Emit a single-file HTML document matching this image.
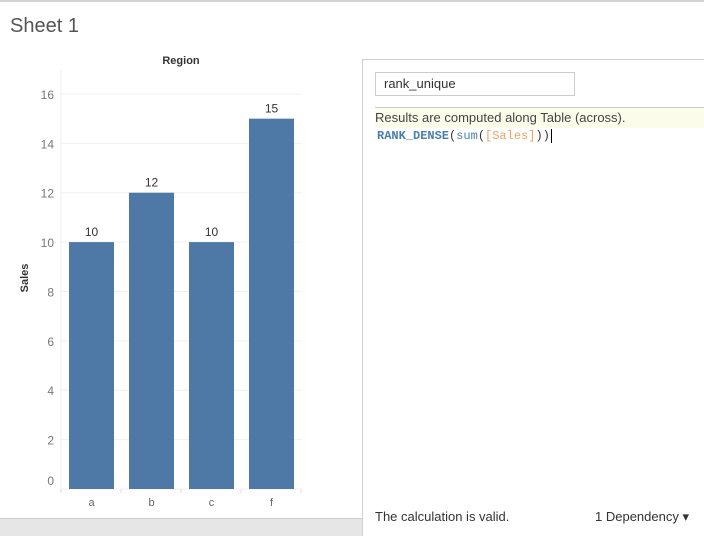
<!DOCTYPE html>
<html><head><meta charset="utf-8"><style>
body{margin:0;width:704px;height:535px;overflow:hidden;background:#fff;font-family:"Liberation Sans",sans-serif;position:relative}
.a{position:absolute}
</style></head><body>
<div class="a" style="left:0;top:0;width:704px;height:2px;background:#d4d4d4"></div>
<div class="a" style="left:10px;top:15px;font-size:20px;color:#555">Sheet 1</div>
<svg class="a" style="left:0;top:0" width="362" height="535">
<g id="g"></g>
</svg>
<div class="a" style="left:0;top:518px;width:362px;height:17px;background:#e6e6e6;border-top:1px solid #ccc"></div>
<div class="a" style="left:362px;top:59px;width:342px;height:476px;border-left:1px solid #d0d0d0;border-top:1px solid #d0d0d0"></div>
<div class="a" style="left:375px;top:72px;width:198px;height:22px;border:1px solid #ccc;font-size:13px;line-height:22px;padding-left:8px;box-sizing:border-box;width:200px;height:24px;color:#333">rank_unique</div>
<div class="a" style="left:375px;top:107px;width:329px;height:20px;background:#fcfceb;border-top:1px solid #ccc;font-size:13px;color:#444;line-height:20px">Results are computed along Table (across).</div>
<div class="a" style="left:377px;top:128px;font-family:'Liberation Mono',monospace;font-size:12px;line-height:16px"><b style="color:#4a7fad">RANK_DENSE</b><span style="color:#333">(</span><span style="color:#4a7fad">sum</span><span style="color:#333">(</span><span style="color:#f0a060">[Sales]</span><span style="color:#333">))</span><span style="border-left:1px solid #000;margin-left:1px"></span></div>
<div class="a" style="left:375px;top:509px;font-size:13px;color:#333">The calculation is valid.</div>
<div class="a" style="left:595px;top:509px;font-size:13px;color:#333">1 Dependency ▾</div>
<script>
const categories=["a","b","c","f"];
const sales=[10,12,10,15];
const yTicks=[0,2,4,6,8,10,12,14,16];
const g=document.getElementById('g');const NS='http://www.w3.org/2000/svg';
const x0=61,bw=60,y0=489,ppu=24.69;
const y=v=>y0-v*ppu;
function el(t,a,txt){const e=document.createElementNS(NS,t);for(const k in a)e.setAttribute(k,a[k]);if(txt!==undefined)e.textContent=txt;g.appendChild(e);return e;}
let e=el('text',{x:181,y:64,'text-anchor':'middle','font-size':11,'font-weight':'bold',fill:'#333'},'Region');

e=el('text',{x:0,y:0,transform:'translate(28,278) rotate(-90)','text-anchor':'middle','font-size':11,'font-weight':'bold',fill:'#333'},'Sales');

el('line',{x1:x0,x2:x0,y1:70,y2:492,stroke:'#eee'});
yTicks.forEach(t=>{const yy=y(t);
e=el('line',{x1:x0,x2:302,y1:yy,y2:yy,stroke:'#f0f0f0'});
e=el('text',{x:54,y:(t===0?yy-4:yy+5),'text-anchor':'end','font-size':12,fill:'#777'},t);
});
for(let i=0;i<=categories.length;i++)el('line',{x1:x0+i*bw,x2:x0+i*bw,y1:y0,y2:y0+4,stroke:'#ddd'});
categories.forEach((c,i)=>{const v=sales[i];const bx=x0+i*bw+8;
e=el('rect',{x:bx,y:y(v),width:45,height:v*ppu,fill:'#4e79a7'});

e=el('text',{x:bx+22.5,y:y(v)-6,'text-anchor':'middle','font-size':12,fill:'#333'},v);

e=el('text',{x:bx+22.5,y:506,'text-anchor':'middle','font-size':11,fill:'#666'},c);
});
</script>
</body></html>
